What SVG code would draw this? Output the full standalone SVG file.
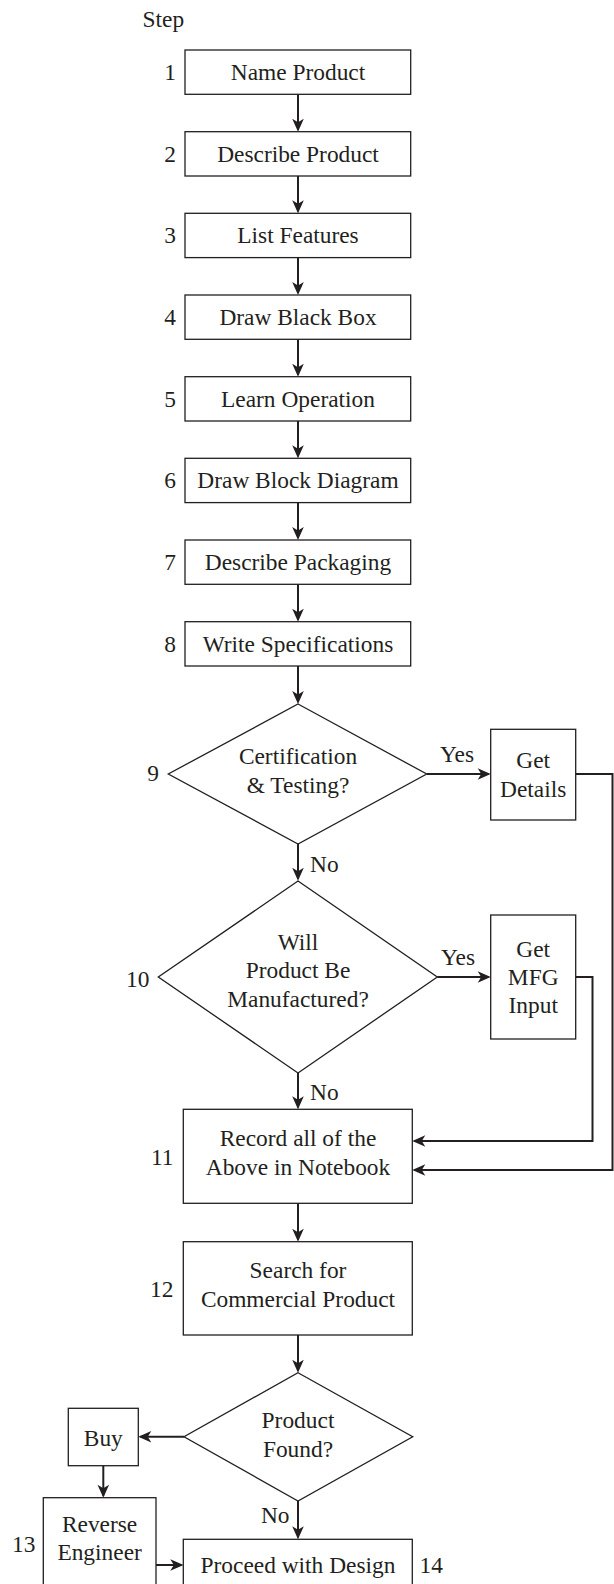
<svg xmlns="http://www.w3.org/2000/svg" width="614" height="1584" viewBox="0 0 614 1584">
<style>
text{font-family:"Liberation Serif","Times New Roman",serif;font-size:23.4px;fill:#231f20}
.c{text-anchor:middle}
.e{text-anchor:end}
.box{fill:#fff;stroke:#231f20;stroke-width:1.3}
.ln{fill:none;stroke:#231f20;stroke-width:2}
.ar{fill:none;stroke:#231f20;stroke-width:2;marker-end:url(#ah)}
</style>
<defs>
<marker id="ah" markerUnits="userSpaceOnUse" markerWidth="14" markerHeight="14" viewBox="-12 -7 14 14" refX="0" refY="0" orient="auto">
<path d="M2,0 L-11,-5.8 L-7.5,0 L-11,5.8 Z" fill="#231f20"/>
</marker>
</defs>
<rect width="614" height="1584" fill="#fff"/>
<text x="142.5" y="27">Step</text>

<g id="connectors">
<line class="ar" x1="298" y1="94.3" x2="298" y2="129.7"/>
<line class="ar" x1="298" y1="176" x2="298" y2="211.3"/>
<line class="ar" x1="298" y1="257.6" x2="298" y2="293"/>
<line class="ar" x1="298" y1="339.3" x2="298" y2="374.7"/>
<line class="ar" x1="298" y1="421" x2="298" y2="456.3"/>
<line class="ar" x1="298" y1="502.6" x2="298" y2="538"/>
<line class="ar" x1="298" y1="584.3" x2="298" y2="619.7"/>
<line class="ar" x1="298" y1="666" x2="298" y2="702"/>
<line class="ar" x1="426.7" y1="774" x2="488.7" y2="774"/>
<line class="ar" x1="298" y1="844" x2="298" y2="878.7"/>
<line class="ar" x1="437.3" y1="977" x2="488.7" y2="977"/>
<line class="ar" x1="298" y1="1073" x2="298" y2="1107.3"/>
<polyline class="ar" points="575.7,774 612.5,774 612.5,1170 414.3,1170"/>
<polyline class="ar" points="575.7,977 592.5,977 592.5,1141 414.3,1141"/>
<line class="ar" x1="298" y1="1203.3" x2="298" y2="1239.7"/>
<line class="ar" x1="298" y1="1335" x2="298" y2="1370.7"/>
<line class="ar" x1="184" y1="1436.8" x2="140.3" y2="1436.8"/>
<line class="ar" x1="103.3" y1="1465.7" x2="103.3" y2="1495.7"/>
<line class="ar" x1="298" y1="1501" x2="298" y2="1537.3"/>
<line class="ar" x1="156" y1="1565" x2="181.3" y2="1565"/>
<text x="440" y="761.7">Yes</text>
<text x="310" y="871.7">No</text>
<text x="441" y="965">Yes</text>
<text x="310" y="1100">No</text>
<text class="e" x="289.5" y="1522.7">No</text>
</g>

<g id="n1"><rect class="box" x="185" y="50" width="225.7" height="44.3"/><text class="c" x="298" y="80">Name Product</text><text class="e" x="176" y="80">1</text></g>
<g id="n2"><rect class="box" x="185" y="131.7" width="225.7" height="44.3"/><text class="c" x="298" y="161.7">Describe Product</text><text class="e" x="176" y="161.7">2</text></g>
<g id="n3"><rect class="box" x="185" y="213.3" width="225.7" height="44.3"/><text class="c" x="298" y="243.3">List Features</text><text class="e" x="176" y="243.3">3</text></g>
<g id="n4"><rect class="box" x="185" y="295" width="225.7" height="44.3"/><text class="c" x="298" y="325">Draw Black Box</text><text class="e" x="176" y="325">4</text></g>
<g id="n5"><rect class="box" x="185" y="376.7" width="225.7" height="44.3"/><text class="c" x="298" y="406.7">Learn Operation</text><text class="e" x="176" y="406.7">5</text></g>
<g id="n6"><rect class="box" x="185" y="458.3" width="225.7" height="44.3"/><text class="c" x="298" y="488.3">Draw Block Diagram</text><text class="e" x="176" y="488.3">6</text></g>
<g id="n7"><rect class="box" x="185" y="540" width="225.7" height="44.3"/><text class="c" x="298" y="570">Describe Packaging</text><text class="e" x="176" y="570">7</text></g>
<g id="n8"><rect class="box" x="185" y="621.7" width="225.7" height="44.3"/><text class="c" x="298" y="651.7">Write Specifications</text><text class="e" x="176" y="651.7">8</text></g>

<g id="n9"><polygon class="box" points="298,704 426.7,774 298,844 168.3,774"/><text class="c" x="298" y="764">Certification</text><text class="c" x="298" y="793">&amp; Testing?</text><text class="e" x="159" y="781">9</text></g>
<g id="n9y"><rect class="box" x="490.7" y="729.3" width="85" height="90.7"/><text class="c" x="533.2" y="768.3">Get</text><text class="c" x="533.2" y="796.7">Details</text></g>

<g id="n10"><polygon class="box" points="298,881 437.3,977 298,1073 158.3,977"/><text class="c" x="298" y="950">Will</text><text class="c" x="298" y="978.3">Product Be</text><text class="c" x="298" y="1006.7">Manufactured?</text><text class="e" x="149.5" y="986.7">10</text></g>
<g id="n10y"><rect class="box" x="490.7" y="915" width="85" height="124"/><text class="c" x="533.2" y="956.7">Get</text><text class="c" x="533.2" y="985">MFG</text><text class="c" x="533.2" y="1013.3">Input</text></g>

<g id="n11"><rect class="box" x="183.3" y="1109.3" width="229" height="94"/><text class="c" x="298" y="1146">Record all of the</text><text class="c" x="298" y="1175">Above in Notebook</text><text class="e" x="173.5" y="1165">11</text></g>
<g id="n12"><rect class="box" x="183.3" y="1241.7" width="229" height="93.3"/><text class="c" x="298" y="1278.3">Search for</text><text class="c" x="298" y="1306.7">Commercial Product</text><text class="e" x="173.5" y="1296.7">12</text></g>

<g id="n13d"><polygon class="box" points="298,1372.7 412.7,1436.8 298,1501 184,1436.8"/><text class="c" x="298" y="1428.3">Product</text><text class="c" x="298" y="1456.7">Found?</text></g>
<g id="nbuy"><rect class="box" x="68.3" y="1408.3" width="70" height="57.4"/><text class="c" x="103.3" y="1446">Buy</text></g>
<g id="n13"><rect class="box" x="43.3" y="1497.7" width="112.7" height="100"/><text class="c" x="99.6" y="1531.7">Reverse</text><text class="c" x="99.6" y="1560">Engineer</text><text class="e" x="35.5" y="1551.7">13</text></g>
<g id="n14"><rect class="box" x="183.3" y="1539.3" width="229" height="60"/><text class="c" x="298" y="1573.3">Proceed with Design</text><text x="419.5" y="1573.3">14</text></g>
</svg>
